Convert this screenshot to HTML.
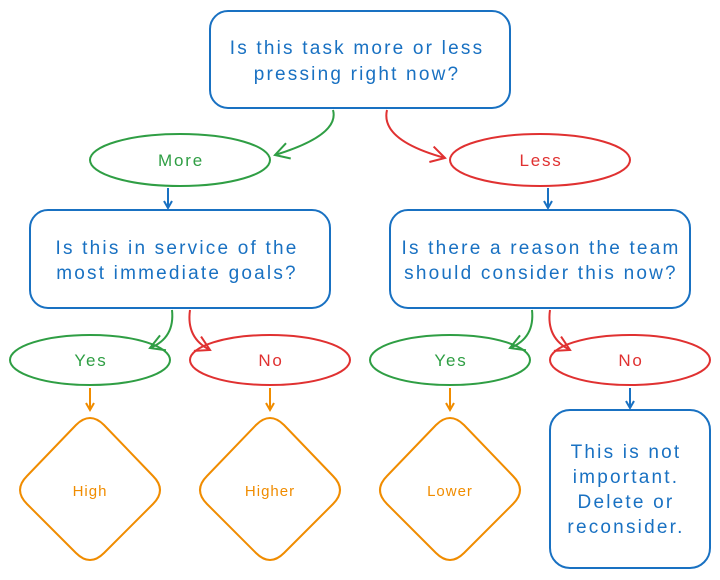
<!DOCTYPE html>
<html><head><meta charset="utf-8"><style>
html,body{margin:0;padding:0;background:#fff;}
svg{display:block;}
text{font-family:"Liberation Sans",sans-serif;font-size:17px;text-anchor:middle;}
.big text{font-size:19px;letter-spacing:2.2px;}
.mid text{letter-spacing:1.8px;}
</style></head><body>
<svg width="720" height="580" viewBox="0 0 720 580" xmlns="http://www.w3.org/2000/svg">
<defs>
<marker id="ab" markerWidth="10" markerHeight="10" refX="8" refY="5" orient="auto" markerUnits="userSpaceOnUse"><path d="M1,1 L8,5 L1,9" fill="none" stroke="#1971c2" stroke-width="2"/></marker>
<marker id="ag" markerWidth="20" markerHeight="20" refX="16" refY="10" orient="auto" markerUnits="userSpaceOnUse"><path d="M2,2 L16,10 L2,18" fill="none" stroke="#2f9e44" stroke-width="2"/></marker>
<marker id="ar" markerWidth="20" markerHeight="20" refX="16" refY="10" orient="auto" markerUnits="userSpaceOnUse"><path d="M2,2 L16,10 L2,18" fill="none" stroke="#e03131" stroke-width="2"/></marker>
<marker id="ao" markerWidth="10" markerHeight="10" refX="8" refY="5" orient="auto" markerUnits="userSpaceOnUse"><path d="M1,1 L8,5 L1,9" fill="none" stroke="#f08c00" stroke-width="2"/></marker>
</defs>
<g fill="none" stroke-width="2">
<rect x="210" y="11" width="300" height="97" rx="18" stroke="#1971c2"/>
<rect x="30" y="210" width="300" height="98" rx="18" stroke="#1971c2"/>
<rect x="390" y="210" width="300" height="98" rx="18" stroke="#1971c2"/>
<rect x="550" y="410" width="160" height="158" rx="20" stroke="#1971c2"/>
<ellipse cx="180" cy="160" rx="90" ry="26" stroke="#2f9e44"/>
<ellipse cx="540" cy="160" rx="90" ry="26" stroke="#e03131"/>
<ellipse cx="90" cy="360" rx="80" ry="25" stroke="#2f9e44"/>
<ellipse cx="270" cy="360" rx="80" ry="25" stroke="#e03131"/>
<ellipse cx="450" cy="360" rx="80" ry="25" stroke="#2f9e44"/>
<ellipse cx="630" cy="360" rx="80" ry="25" stroke="#e03131"/>
<g stroke="#f08c00">
<path d="M76,425 Q90,411 104,425 L153,476 Q167,490 153,504 L104,553 Q90,567 76,553 L27,504 Q13,490 27,476 Z"/>
<path d="M256,425 Q270,411 284,425 L333,476 Q347,490 333,504 L284,553 Q270,567 256,553 L207,504 Q193,490 207,476 Z"/>
<path d="M436,425 Q450,411 464,425 L513,476 Q527,490 513,504 L464,553 Q450,567 436,553 L387,504 Q373,490 387,476 Z"/>
</g>
<path d="M333,110 Q340,135 275,155" stroke="#2f9e44" marker-end="url(#ag)"/>
<path d="M387,110 Q380,140 445,158" stroke="#e03131" marker-end="url(#ar)"/>
<path d="M168,188 L168,208" stroke="#1971c2" marker-end="url(#ab)"/>
<path d="M548,188 L548,208" stroke="#1971c2" marker-end="url(#ab)"/>
<path d="M172,310 Q175,338 150,348" stroke="#2f9e44" marker-end="url(#ag)"/>
<path d="M190,310 Q186,338 210,350" stroke="#e03131" marker-end="url(#ar)"/>
<path d="M532,310 Q535,338 510,348" stroke="#2f9e44" marker-end="url(#ag)"/>
<path d="M550,310 Q546,338 570,350" stroke="#e03131" marker-end="url(#ar)"/>
<path d="M90,388 L90,410" stroke="#f08c00" marker-end="url(#ao)"/>
<path d="M270,388 L270,410" stroke="#f08c00" marker-end="url(#ao)"/>
<path d="M450,388 L450,410" stroke="#f08c00" marker-end="url(#ao)"/>
<path d="M630,388 L630,408" stroke="#1971c2" marker-end="url(#ab)"/>
</g>
<g fill="#1971c2" class="big">
<text x="357" y="54">Is this task more or less</text>
<text x="357" y="80">pressing right now?</text>
<text x="177" y="254">Is this in service of the</text>
<text x="177" y="279">most immediate goals?</text>
<text x="541" y="254">Is there a reason the team</text>
<text x="541" y="279">should consider this now?</text>
<text x="626" y="458">This is not</text>
<text x="626" y="483">important.</text>
<text x="626" y="508">Delete or</text>
<text x="626" y="533">reconsider.</text>
</g>
<g fill="#2f9e44" class="mid"><text x="181" y="166">More</text><text x="91" y="366">Yes</text><text x="451" y="366">Yes</text></g>
<g fill="#e03131" class="mid"><text x="541" y="166">Less</text><text x="271" y="366">No</text><text x="631" y="366">No</text></g>
<g fill="#f08c00"><text x="90" y="496" style="font-size:15px;letter-spacing:1px">High</text><text x="270" y="496" style="font-size:15px;letter-spacing:1px">Higher</text><text x="450" y="496" style="font-size:15px;letter-spacing:1px">Lower</text></g>
</svg>
</body></html>
